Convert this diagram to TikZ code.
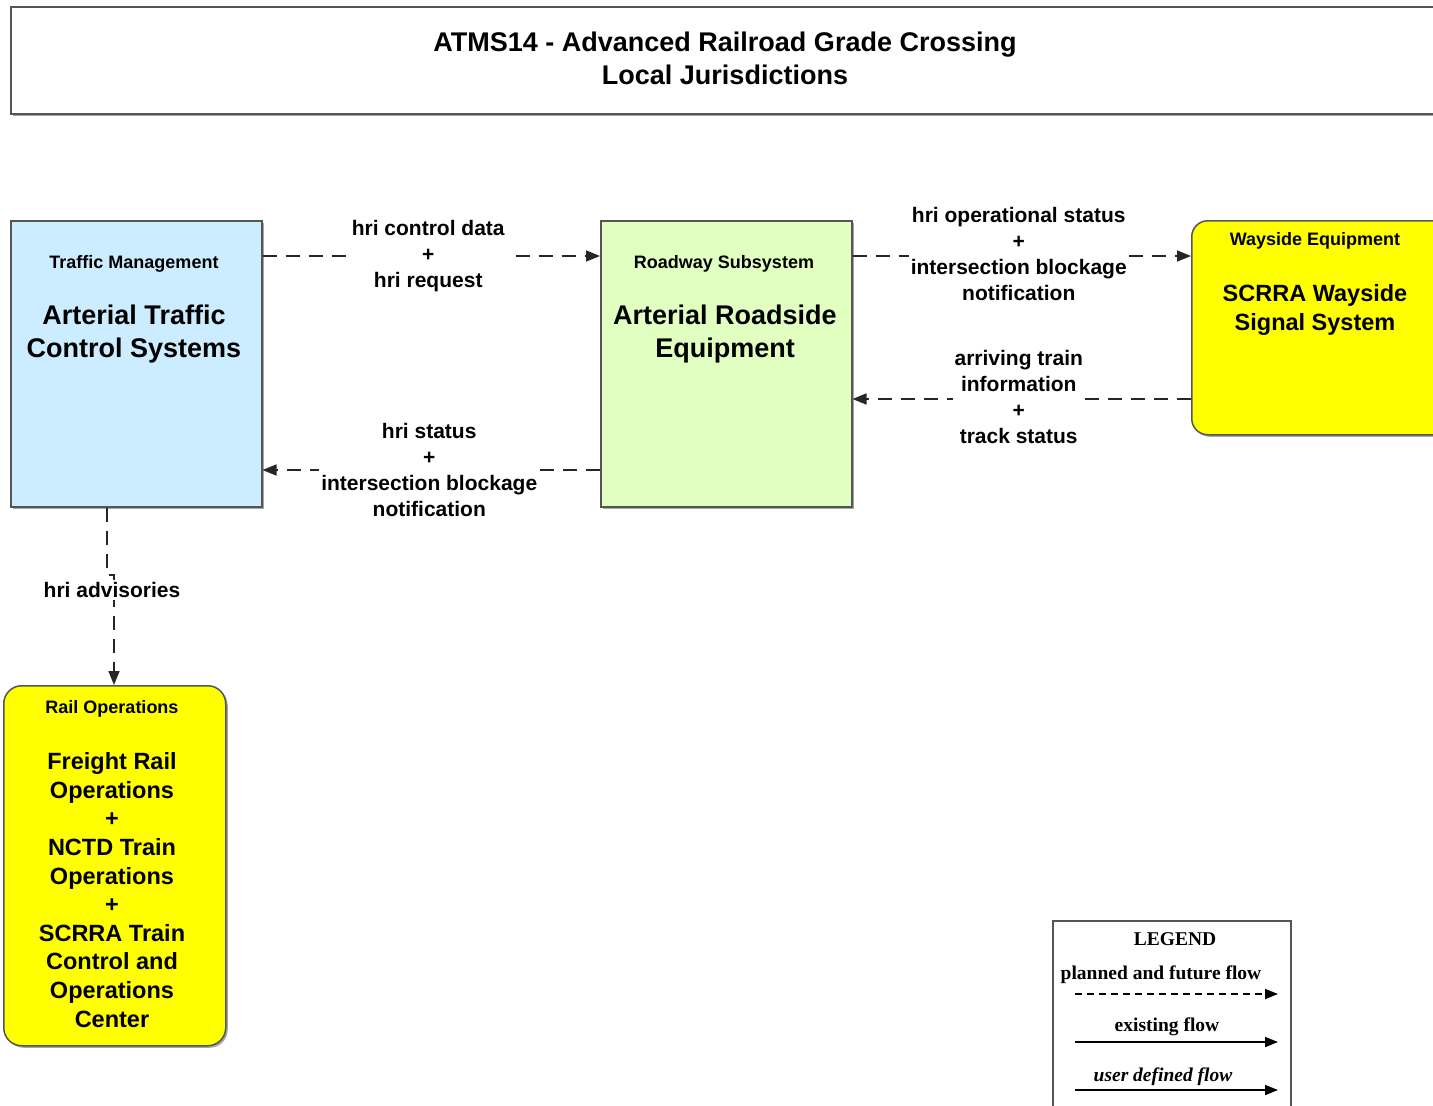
\documentclass[tikz,border=0pt]{standalone}
\usepackage{fontspec}
\setmainfont{Liberation Sans}
\newfontfamily\legendfont{Liberation Serif}
\usetikzlibrary{arrows.meta,shadows}
\definecolor{tmblue}{RGB}{204,236,255}
\definecolor{rsgreen}{RGB}{224,255,192}
\definecolor{wyellow}{RGB}{255,255,0}
\definecolor{edgegray}{RGB}{85,85,85}
\begin{document}
\begin{tikzpicture}[x=1pt,y=-1pt,
  box/.style={draw=edgegray,line width=1.5pt,inner sep=0pt,anchor=north west,
    drop shadow={shadow xshift=2pt,shadow yshift=-2pt,fill=black!35,opacity=1}},
  hdr/.style={font=\bfseries\fontsize{18}{21}\selectfont,inner sep=0pt},
  big/.style={font=\bfseries\fontsize{27}{33}\selectfont,align=center,inner sep=0pt},
  mid/.style={font=\bfseries\fontsize{23.5}{28.6}\selectfont,align=center,inner sep=0pt},
  lbl/.style={font=\bfseries\fontsize{21}{26}\selectfont,align=center,fill=white,inner sep=2pt},
  flow/.style={draw=black!85,line width=1.6pt,dash pattern=on 14pt off 9pt,-{Triangle[length=14pt,width=11pt]}},
  legtext/.style={font=\legendfont\bfseries\fontsize{19.5}{22}\selectfont,inner sep=0pt},
  legarrow/.style={draw=black,line width=1.8pt,-{Triangle[length=13pt,width=10pt]}},
]
\clip (0,0) rectangle (1433,1106);
\fill[white] (0,0) rectangle (1433,1106);

% title
\node[box,fill=white,minimum width=1440,minimum height=107] (title) at (10,6) {};
\node[big] (titletext) at (725,58) {ATMS14 - Advanced Railroad Grade Crossing\\Local Jurisdictions};

% boxes
\node[box,fill=tmblue,minimum width=251,minimum height=286] (atc) at (10,220) {};
\node[hdr] (atchdr) at (134,264) {Traffic Management};
\node[big] (atctext) at (134,334) {Arterial Traffic\\Control Systems};

\node[box,fill=rsgreen,minimum width=251,minimum height=286] (are) at (600,220) {};
\node[hdr] (arehdr) at (724,264) {Roadway Subsystem};
\node[big] (aretext) at (725,334) {Arterial Roadside\\Equipment};

\node[box,fill=wyellow,rounded corners=16pt,minimum width=260,minimum height=214] (way) at (1191,220) {};
\node[hdr] (wayhdr) at (1315,241) {Wayside Equipment};
\node[mid] (waytext) at (1315,310) {SCRRA Wayside\\Signal System};

\node[box,fill=wyellow,rounded corners=18pt,minimum width=222,minimum height=360] (rail) at (3,685) {};
\node[hdr] (railhdr) at (112,709) {Rail Operations};
\node[mid] (railtext) at (112,890) {Freight Rail\\Operations\\+\\NCTD Train\\Operations\\+\\SCRRA Train\\Control and\\Operations\\Center};

% connectors
\draw[flow] (atc.east |- 0,256) -- node[lbl,xshift=-3pt] {hri control data\\+\\hri request} (are.west |- 0,256);
\draw[flow] (are.west |- 0,470) -- node[lbl,xshift=-2pt] {hri status\\+\\intersection blockage\\notification} (atc.east |- 0,470);
\draw[flow] (are.east |- 0,256) -- node[lbl,xshift=-3pt,yshift=2pt] {hri operational status\\+\\intersection blockage\\notification} (way.west |- 0,256);
\draw[flow] (way.west |- 0,399) -- node[lbl,xshift=-3pt,yshift=2pt] {arriving train\\information\\+\\track status} (are.east |- 0,399);

\coordinate (j1) at (107,575);
\coordinate (j2) at (114,575);
\draw[flow] (j1 |- atc.south) -- (j1) -- (j2) -- (j2 |- rail.north);
\node[lbl] (advlbl) at (112,590) {hri advisories};

% legend
\node[draw=edgegray,line width=1.5pt,inner sep=0pt,anchor=north west,fill=white,minimum width=238,minimum height=200] (leg) at (1052,920) {};
\node[legtext] (legtitle) at (1175,939) {LEGEND};
\node[legtext] (leg1) at (1161,975) {planned and future flow};
\node[legtext] (leg2) at (1167,1027) {existing flow};
\node[legtext,font=\legendfont\bfseries\itshape\fontsize{19.5}{22}\selectfont] (leg3) at (1163,1077) {user defined flow};
\coordinate (l1a) at (1075,994); \coordinate (l1b) at (1278,994);
\coordinate (l2a) at (1075,1042); \coordinate (l2b) at (1278,1042);
\coordinate (l3a) at (1075,1090); \coordinate (l3b) at (1278,1090);
\draw[legarrow,dash pattern=on 7pt off 5pt] (l1a) -- (l1b);
\draw[legarrow] (l2a) -- (l2b);
\draw[legarrow] (l3a) -- (l3b);
\end{tikzpicture}
\end{document}
